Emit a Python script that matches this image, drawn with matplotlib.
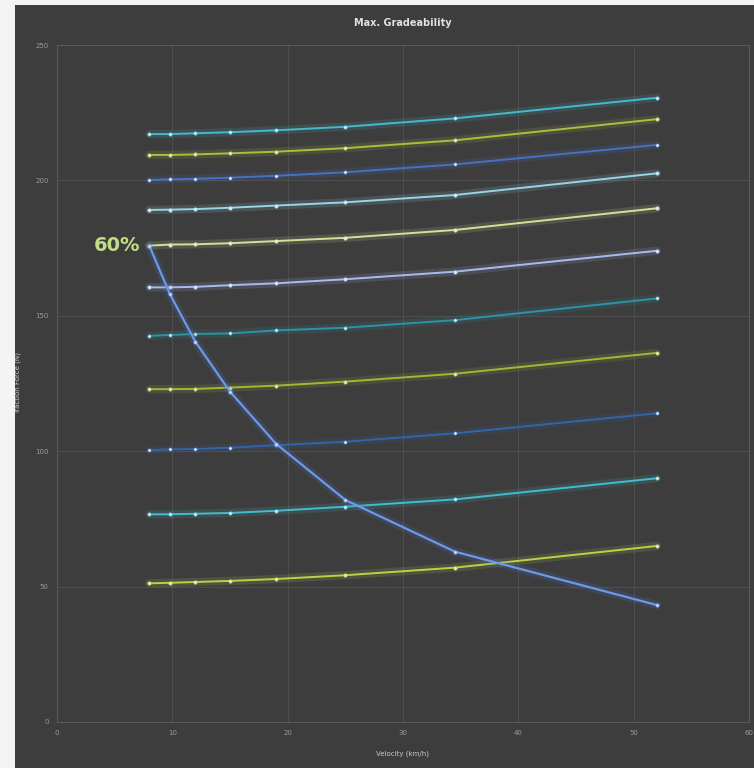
import matplotlib.pyplot as plt
from matplotlib.patches import Rectangle

# velocity points (km/h)
vel = [8, 9.8, 12, 15, 19, 25, 34.5, 52]

# traction force curves (N), top to bottom
f1 = [217.1, 217.1, 217.4, 217.8, 218.5, 219.8, 222.9, 230.5]
f2 = [209.4, 209.4, 209.6, 210.0, 210.6, 211.9, 214.8, 222.6]
f3 = [200.1, 200.4, 200.6, 201.0, 201.7, 203.0, 205.9, 213.1]
f4 = [189.1, 189.2, 189.4, 189.9, 190.7, 191.9, 194.6, 202.6]
f5 = [175.9, 176.3, 176.4, 176.8, 177.6, 178.8, 181.7, 189.7]
f6 = [160.5, 160.5, 160.7, 161.3, 162.0, 163.5, 166.3, 174.0]
f7 = [142.6, 142.9, 143.3, 143.5, 144.6, 145.6, 148.4, 156.4]
f8 = [122.9, 122.9, 123.0, 123.5, 124.2, 125.7, 128.6, 136.3]
f9 = [100.4, 100.7, 100.8, 101.3, 102.2, 103.5, 106.6, 114.0]
f10 = [76.7, 76.7, 76.9, 77.2, 78.0, 79.5, 82.2, 90.0]
f11 = [51.2, 51.4, 51.7, 52.1, 52.8, 54.2, 57.0, 65.0]

# max gradeability curve
grade = [175.9, 157.9, 140.4, 122.0, 102.7, 82.0, 62.9, 43.2]

curves = [f1, f2, f3, f4, f5, f6, f7, f8, f9, f10, f11]
colors = ['#48b8cc', '#a8c040', '#4a70c0', '#98d4e4', '#d4e098',
          '#a8bcec', '#2c94a4', '#a0b838', '#3464a8', '#44bccc', '#bcd048']

fig = plt.figure(figsize=(7.54, 7.68), dpi=100, facecolor='#3d3d3d')
fig.patches.append(Rectangle((0, 0), 15/754, 1, transform=fig.transFigure,
                             facecolor='#f4f4f4', edgecolor='none', zorder=0))
fig.patches.append(Rectangle((0, 763/768), 1, 5/768, transform=fig.transFigure,
                             facecolor='#f4f4f4', edgecolor='none', zorder=0))

ax = fig.add_axes([57/754, 46/768, 692/754, 677/768])
ax.set_facecolor('#3d3d3d')

for y, c in zip(curves, colors):
    ax.plot(vel, y, color=c, lw=6, alpha=0.15, solid_capstyle='round')
    ax.plot(vel, y, color=c, lw=1.4, marker='o', ms=2.5, mfc='#dceef2', mec=c, mew=0.4)

ax.plot(vel, grade, color='#4a78d0', lw=6, alpha=0.18)
ax.plot(vel, grade, color='#6e98e8', lw=1.6, marker='o', ms=2.5, mfc='#c8d8f4', mec='#6e98e8', mew=0.4)

ax.text(7.2, 175.9, '60%', color='#c0dc84', fontsize=14, fontweight='bold',
        ha='right', va='center')

ax.set_xlim(0, 60)
ax.set_ylim(0, 250)
ax.set_xticks(range(0, 61, 10))
ax.set_yticks(range(0, 251, 50))
ax.grid(True, color='#4e4e4e', lw=0.8)
for s in ax.spines.values():
    s.set_color('#5a5a5a')
ax.tick_params(colors='#9a9a9a', labelsize=5, length=0, pad=6)

ax.set_title('Max. Gradeability', color='#e0e0e0', fontsize=7, fontweight='bold', pad=14)
ax.set_xlabel('Velocity (km/h)', color='#c8c8c8', fontsize=5, labelpad=10)
ax.set_ylabel('Traction Force (N)', color='#c8c8c8', fontsize=5, labelpad=10)

fig.savefig('out.png', dpi=100, facecolor=fig.get_facecolor())
